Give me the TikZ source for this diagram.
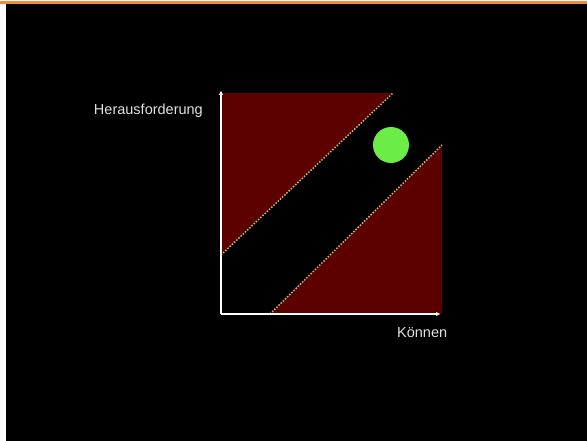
\documentclass[tikz,border=0pt]{standalone}
\usepackage{fontspec}
\setmainfont{Liberation Sans}
\usetikzlibrary{arrows.meta}

\definecolor{zoneRed}{RGB}{92,0,0}
\definecolor{flowGreen}{RGB}{108,236,70}
\definecolor{edgeYellow}{RGB}{196,186,96}
\definecolor{barOrange}{RGB}{240,140,60}
\definecolor{labelGrey}{RGB}{225,225,225}

\tikzset{
  axis/.style={draw=white, line width=1.8pt, -{Stealth[length=4pt,width=4pt]}},
  border/.style={draw=edgeYellow, line width=1.5pt, dash pattern=on 1.5pt off 1.5pt},
  label/.style={text=labelGrey, font=\fontsize{14.5}{16}\selectfont, inner sep=0pt}
}

\begin{document}
\begin{tikzpicture}[x=1pt, y=-1pt]
    \useasboundingbox (0,0) rectangle (587,441);
    \fill[white] (0,0) rectangle (587,441);
    \fill[barOrange] (0,1.3) rectangle (587,3.8);
    \fill[black] (5.5,4) rectangle (587,441);

    \coordinate (O) at (221,314);
    \coordinate (Ytop) at (221,93);
    \coordinate (Xend) at (440,314);
    \coordinate (TR) at (442,93);

    % upper and lower border of the channel
    \coordinate (U1) at (221,255);
    \coordinate (U2) at (393,93);
    \coordinate (L1) at (270,314);
    \coordinate (L2) at (442,145);

    \fill[zoneRed] (O) rectangle (TR);
    \fill[black] (U1) -- (U2) -- (TR) -- (L2) -- (L1) -- (O) -- cycle;
    \draw[border] (U1) -- (U2);
    \draw[border] (L1) -- (L2);

    \fill[flowGreen] (391,145) circle (18);

    \draw[axis] (O) -- (221,91);
    \draw[axis] (O) -- (Xend);

    \node[label, anchor=base east] (challenge) at (203,114.5) {Herausforderung};
    \node[label, anchor=base west] (skill) at (397,337.5) {Können};
\end{tikzpicture}
\end{document}
